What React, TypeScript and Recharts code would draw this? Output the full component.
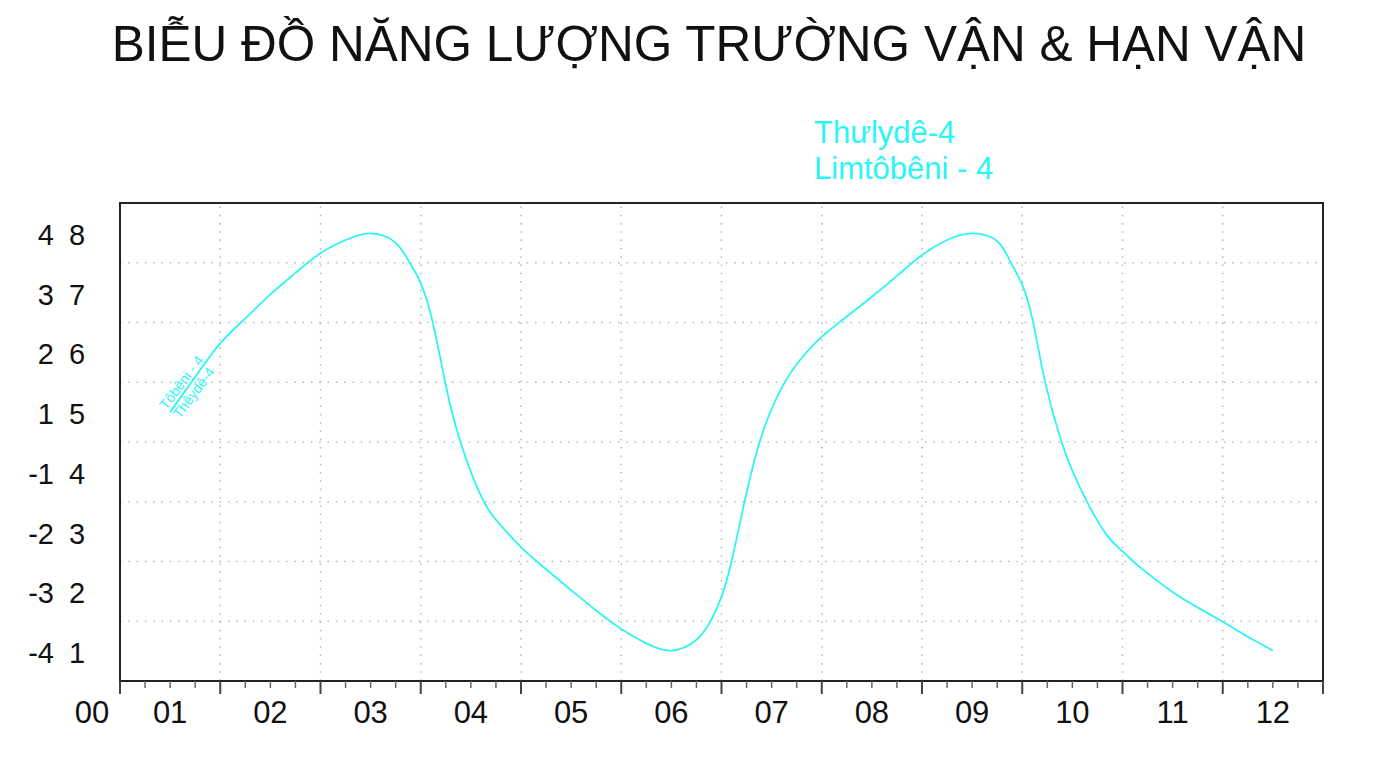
import { LineChart, Line, XAxis, YAxis, ReferenceLine, ReferenceArea } from 'recharts'

const CYAN = '#2ef5f5'
const INK = '#111'

const TITLE = 'BIỄU ĐỒ NĂNG LƯỢNG TRƯỜNG VẬN & HẠN VẬN'
const LEGEND_LINES = ['Thưlydê-4', 'Limtôbêni - 4']
const START_ABOVE = 'Tôbêni - 4'
const START_BELOW = 'Thêydê-4'

const xOriginLabel = '00'
const xLabels = ['01', '02', '03', '04', '05', '06', '07', '08', '09', '10', '11', '12']
const yLeftLabels = ['-4', '-3', '-2', '-1', '1', '2', '3', '4']
const yRightLabels = ['1', '2', '3', '4', '5', '6', '7', '8']

// curve (x in month units, y in band units 0..8)
const xs = [
  0.5, 0.75, 1.0, 1.25, 1.5, 1.75, 2.0, 2.25, 2.5, 2.75, 2.9, 3.0, 3.12, 3.25, 3.4, 3.62, 3.8, 4.0,
  4.25, 4.5, 4.75, 5.0, 5.25, 5.5, 5.75, 5.9, 6.0, 6.1, 6.23, 6.38, 6.55, 6.75, 7.0, 7.25, 7.5,
  7.75, 8.0, 8.25, 8.5, 8.75, 8.88, 9.0, 9.11, 9.23, 9.39, 9.51, 9.64, 9.84, 10.0, 10.17, 10.5,
  10.75, 11.0, 11.25, 11.5,
]
const ys = [
  4.5, 5.09, 5.65, 6.07, 6.47, 6.83, 7.16, 7.38, 7.49, 7.33, 6.97, 6.66, 6.0, 4.95, 3.98, 3.03, 2.6,
  2.24, 1.87, 1.52, 1.18, 0.87, 0.63, 0.51, 0.69, 1.03, 1.41, 2.0, 3.0, 4.0, 4.74, 5.3, 5.76, 6.1,
  6.43, 6.78, 7.13, 7.38, 7.49, 7.36, 7.02, 6.63, 5.99, 4.99, 4.01, 3.48, 3.02, 2.45, 2.17, 1.91,
  1.49, 1.23, 0.99, 0.74, 0.51,
]

const data = xs.map((x, i) => ({ x, y: ys[i] }))

const xTicks = Array.from({ length: 49 }, (_, i) => i / 4)
const yTicks = yRightLabels.map((_, i) => i + 0.5)
const vGrid = [1, 2, 3, 4, 5, 6, 7, 8, 9, 10, 11]
const hGrid = [1, 2, 3, 4, 5, 6, 7]

function XTick({ x, y, payload }: any) {
  const v = payload.value
  const major = Number.isInteger(v)
  const half = v % 1 === 0.5
  return (
    <g>
      <line
        x1={x}
        x2={x}
        y1={y}
        y2={y + (major ? 13 : 7)}
        stroke={major ? '#444' : '#666'}
        strokeWidth={major ? 2 : 1.5}
      />
      {half && (
        <text x={x} y={y + 42} textAnchor="middle" fontSize={31} fill={INK}>
          {xLabels[Math.floor(v)]}
        </text>
      )}
      {v === 0 && (
        <text x={x - 28} y={y + 42} textAnchor="middle" fontSize={31} fill={INK}>
          {xOriginLabel}
        </text>
      )}
    </g>
  )
}

function YTick({ x, y, payload }: any) {
  const i = Math.floor(payload.value)
  return (
    <g>
      <text x={x - 66} y={y + 12} textAnchor="end" fontSize={29} fill={INK}>
        {yLeftLabels[i]}
      </text>
      <text x={x - 51} y={y + 12} textAnchor="start" fontSize={29} fill={INK}>
        {yRightLabels[i]}
      </text>
    </g>
  )
}

function StartLabel(p: any) {
  if (p.index !== 0) return null
  return (
    <g transform={`translate(${p.x},${p.y}) rotate(-53)`}>
      <text x={-1} y={-4} fontSize={14} fill={CYAN}>
        {START_ABOVE}
      </text>
      <text x={0} y={12} fontSize={14} fill={CYAN}>
        {START_BELOW}
      </text>
    </g>
  )
}

export default function App() {
  return (
    <div
      style={{
        position: 'absolute',
        left: 0,
        top: 0,
        width: 1373,
        height: 758,
        background: '#fff',
        fontFamily: '"Liberation Sans", Arial, sans-serif',
      }}
    >
      <LineChart
        width={1373}
        height={758}
        data={data}
        margin={{ top: 203, right: 50, bottom: 0, left: 0 }}
        style={{ position: 'absolute', left: 0, top: 0 }}
      >
        <XAxis
          dataKey="x"
          type="number"
          domain={[0, 12]}
          ticks={xTicks}
          interval={0}
          height={77}
          tickSize={0}
          tickMargin={0}
          tickLine={false}
          axisLine={{ stroke: '#222', strokeWidth: 2 }}
          tick={(p: any) => <XTick {...p} />}
        />
        <YAxis
          type="number"
          domain={[0, 8]}
          ticks={yTicks}
          interval={0}
          width={120}
          tickSize={0}
          tickMargin={0}
          tickLine={false}
          axisLine={{ stroke: '#222', strokeWidth: 2 }}
          tick={(p: any) => <YTick {...p} />}
        />
        {vGrid.map((v) => (
          <ReferenceLine key={`v${v}`} x={v} stroke="#b8b8b8" strokeWidth={1.5} strokeDasharray="1.5 6.8" />
        ))}
        {hGrid.map((v) => (
          <ReferenceLine key={`h${v}`} y={v} stroke="#b8b8b8" strokeWidth={1.5} strokeDasharray="1.5 6.8" />
        ))}
        <ReferenceArea x1={0} x2={12} y1={0} y2={8} fill="none" stroke="#222" strokeWidth={2} />
        <Line
          dataKey="y"
          type="natural"
          stroke={CYAN}
          strokeWidth={1.8}
          dot={false}
          activeDot={false}
          isAnimationActive={false}
          label={(p: any) => <StartLabel {...p} />}
        />
      </LineChart>
      <svg
        width={1373}
        height={758}
        style={{ position: 'absolute', left: 0, top: 0, pointerEvents: 'none' }}
      >
        <text x={709} y={61} textAnchor="middle" fontSize={49.5} fill={INK}>
          {TITLE}
        </text>
        <text x={814} y={143} fontSize={31} fill={CYAN}>
          {LEGEND_LINES[0]}
        </text>
        <text x={814} y={179} fontSize={31} fill={CYAN}>
          {LEGEND_LINES[1]}
        </text>
      </svg>
    </div>
  )
}
